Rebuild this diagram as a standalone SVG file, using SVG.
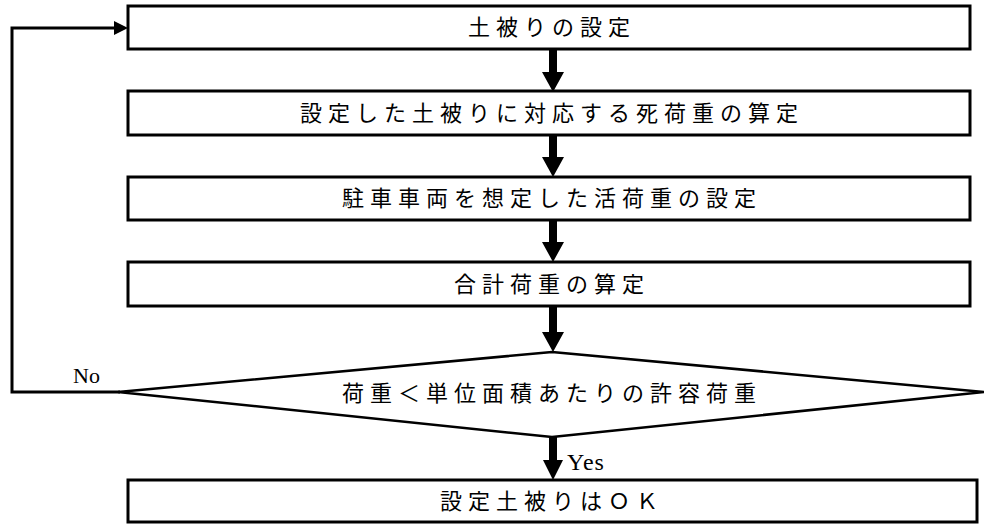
<svg xmlns="http://www.w3.org/2000/svg" width="984" height="527" viewBox="0 0 984 527">
<defs>
<style>
.box{fill:#fff;stroke:#000;stroke-width:3}
.t{font-family:"Noto Sans CJK JP","Noto Sans CJK SC",sans-serif;font-size:22px;letter-spacing:6px;text-anchor:middle;fill:#000}
.lbl{font-family:"Liberation Serif",serif;font-size:22px;fill:#000}
.ln{fill:none;stroke:#000;stroke-width:3}
</style>
</defs>
<rect width="984" height="527" fill="#fff"/>
<g id="connectors">
<polygon points="549,49 557,49 557,72 564,72 553,92 542,72 549,72"/>
<polygon points="549,135 557,135 557,157 564,157 553,177 542,157 549,157"/>
<polygon points="549,220 557,220 557,242 564,242 553,262 542,242 549,242"/>
<polygon points="549,306 557,306 557,332 564,332 553,352 542,332 549,332"/>
<polygon points="549,437 557,437 557,460 563,460 553,480 543,460 549,460"/>
<polyline class="ln" points="120,392 12,392 12,28 116,28"/>
<polygon points="114,21 128,28 114,35"/>
<text class="lbl" x="73" y="383">No</text>
<text class="lbl" x="567" y="470" style="font-size:24px;letter-spacing:1px">Yes</text>
</g>
<g id="n1">
<rect class="box" x="128" y="6" width="842" height="43"/>
<text class="t" x="552" y="35">土被りの設定</text>
</g>
<g id="n2">
<rect class="box" x="128" y="91" width="842" height="44"/>
<text class="t" x="552" y="121">設定した土被りに対応する死荷重の算定</text>
</g>
<g id="n3">
<rect class="box" x="128" y="177" width="842" height="43"/>
<text class="t" x="552" y="206">駐車車両を想定した活荷重の設定</text>
</g>
<g id="n4">
<rect class="box" x="128" y="262" width="842" height="44"/>
<text class="t" x="552" y="292">合計荷重の算定</text>
</g>
<g id="n5">
<polygon class="box" points="552,352 984,392 552,437 118,392" style="stroke-width:2.5"/>
<text class="t" x="552" y="401">荷重＜単位面積あたりの許容荷重</text>
</g>
<g id="n6">
<rect class="box" x="128" y="480" width="849" height="42"/>
<text class="t" x="552" y="509">設定土被りはＯＫ</text>
</g>
</svg>
